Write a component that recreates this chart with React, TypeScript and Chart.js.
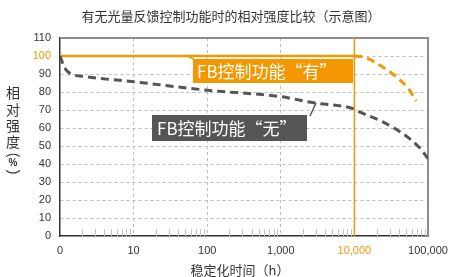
import React, { useEffect, useRef } from 'react';
import { Chart, registerables } from 'chart.js';

Chart.register(...registerables);

const TITLE = '有无光量反馈控制功能时的相对强度比较（示意图）';
const X_TITLE = '稳定化时间（h）';
const Y_TITLE_CHARS = ['相', '对', '强', '度', '(', '%', ')'];
const LABEL_ON = 'FB控制功能“有”';
const LABEL_OFF = 'FB控制功能“无”';

const X_MIN = 1;
const X_MAX = 100000;
const Y_MIN = 0;
const Y_MAX = 110;
const Y_STEP = 10;
const X_MAJOR = [1, 10, 100, 1000, 10000, 100000];
const X_MAJOR_LABELS = ['0', '10', '100', '1,000', '10,000', '100,000'];
const X_MINOR_MULT = [2, 3, 4, 5, 6, 7, 8, 9];
const HIGHLIGHT_X = 10000;
const HIGHLIGHT_Y = 100;

// "FB control ON" series
const ON_SOLID_X = [1, 10000];
const ON_SOLID_Y = [100, 100];
const ON_DASH_X = [10000, 14000, 21900, 37000, 56000, 69000];
const ON_DASH_Y = [100, 99.2, 95, 88.5, 81, 75];

// "FB control OFF" series
const OFF_X = [1, 1.16, 1.35, 2.3, 10, 100, 1000, 2800, 10000, 11700, 24000, 45000, 77000, 100000];
const OFF_Y = [100, 93.3, 90.5, 88.5, 85.7, 81, 77.4, 74, 70.5, 69, 63.5, 57, 49, 43];

const ORANGE = '#F39800';
const DARK = '#555555';
const TEXT = '#333333';
const GRID = '#bdbdbd';
const FONT = "'Liberation Sans', 'Noto Sans CJK SC', sans-serif";
const CJK = "'Noto Sans CJK SC', sans-serif";

const pts = (xs: number[], ys: number[]) => xs.map((x, i) => ({ x, y: ys[i] }));

const xTickValues: number[] = [];
for (let d = 0; d < X_MAJOR.length; d++) {
  xTickValues.push(X_MAJOR[d]);
  if (d < X_MAJOR.length - 1) X_MINOR_MULT.forEach((m) => xTickValues.push(m * X_MAJOR[d]));
}

const decorPlugin = {
  id: 'decor',
  beforeDatasetsDraw(chart: any) {
    const { ctx, chartArea: a, scales } = chart;
    const xs = scales.x;
    ctx.save();
    // minor ticks inside the plot at bottom
    ctx.strokeStyle = '#c4c4c4';
    ctx.lineWidth = 1;
    xs.ticks.forEach((t: any) => {
      if (X_MAJOR.indexOf(t.value) >= 0) return;
      const px = Math.round(xs.getPixelForValue(t.value)) + 0.5;
      ctx.beginPath();
      ctx.moveTo(px, a.bottom);
      ctx.lineTo(px, a.bottom - 7);
      ctx.stroke();
    });
    // top and right frame
    ctx.strokeStyle = '#8c8c8c';
    ctx.lineWidth = 2;
    ctx.beginPath();
    ctx.moveTo(a.left, a.top);
    ctx.lineTo(a.right, a.top);
    ctx.lineTo(a.right, a.bottom);
    ctx.stroke();
    ctx.restore();
  },
  afterDraw(chart: any) {
    const { ctx } = chart;
    ctx.save();
    ctx.fillStyle = TEXT;
    ctx.textAlign = 'center';
    ctx.textBaseline = 'middle';
    ctx.font = `13px ${CJK}`;
    ctx.fillText(TITLE, 231, 16);
    ctx.fillText(X_TITLE, 240, 270);
    const ys = [93, 110, 126, 142, 155, 163, 172];
    Y_TITLE_CHARS.forEach((c, i) => {
      if (c === '(' || c === ')') {
        ctx.save();
        ctx.translate(13, ys[i]);
        ctx.rotate(Math.PI / 2);
        ctx.font = `14px ${FONT}`;
        ctx.fillText(c, 0, 0);
        ctx.restore();
      } else {
        ctx.font = c === '%' ? `bold 10px ${FONT}` : `14px ${CJK}`;
        ctx.fillText(c, 13, ys[i]);
      }
    });

    // ON label
    ctx.strokeStyle = ORANGE;
    ctx.lineWidth = 1.5;
    ctx.beginPath();
    ctx.moveTo(188, chart.scales.y.getPixelForValue(HIGHLIGHT_Y));
    ctx.lineTo(195, 60);
    ctx.stroke();
    ctx.fillStyle = ORANGE;
    ctx.fillRect(193, 59, 160, 24);
    ctx.fillStyle = '#ffffff';
    ctx.font = `17px ${CJK}`;
    ctx.textAlign = 'left';
    ctx.fillText(LABEL_ON, 197, 72);

    // OFF label
    ctx.strokeStyle = DARK;
    ctx.lineWidth = 1.5;
    ctx.beginPath();
    ctx.moveTo(310, 116);
    ctx.lineTo(316, 103);
    ctx.stroke();
    ctx.fillStyle = DARK;
    ctx.fillRect(152, 115, 155, 26);
    ctx.fillStyle = '#ffffff';
    ctx.fillText(LABEL_OFF, 157, 129);
    ctx.restore();
  },
};

export default function App() {
  const ref = useRef<HTMLCanvasElement>(null);
  useEffect(() => {
    document.body.style.margin = '0';
    const chart = new Chart(ref.current as HTMLCanvasElement, {
      type: 'line',
      data: {
        datasets: [
          {
            data: pts([HIGHLIGHT_X, HIGHLIGHT_X], [Y_MIN, Y_MAX]),
            borderColor: ORANGE,
            borderWidth: 1.5,
            pointRadius: 0,
          },
          {
            data: pts(OFF_X, OFF_Y),
            borderColor: DARK,
            borderWidth: 3,
            borderDash: [8, 5],
            pointRadius: 0,
            cubicInterpolationMode: 'monotone',
          },
          {
            data: pts(ON_SOLID_X, ON_SOLID_Y),
            borderColor: ORANGE,
            borderWidth: 2.5,
            pointRadius: 0,
          },
          {
            data: pts(ON_DASH_X, ON_DASH_Y),
            borderColor: ORANGE,
            borderWidth: 3,
            borderDash: [8, 5],
            pointRadius: 0,
            cubicInterpolationMode: 'monotone',
          },
        ],
      },
      options: {
        animation: false,
        responsive: true,
        maintainAspectRatio: false,
        layout: { padding: { top: 38, right: 21, left: 0, bottom: 0 } },
        plugins: { legend: { display: false }, tooltip: { enabled: false }, title: { display: false } },
        scales: {
          x: {
            type: 'logarithmic',
            min: X_MIN,
            max: X_MAX,
            afterBuildTicks: (s: any) => {
              s.ticks = xTickValues.map((v) => ({ value: v, major: X_MAJOR.indexOf(v) >= 0 }));
            },
            afterFit: (s: any) => {
              s.height = 41;
              s.paddingLeft = 0;
              s.paddingRight = 0;
            },
            grid: {
              drawTicks: false,
              color: (c: any) => {
                const v = c.tick && c.tick.value;
                return v === 10 || v === 100 || v === 1000 ? GRID : 'transparent';
              },
            },
            border: { display: true, color: '#333', width: 1.5, dash: [3, 3] },
            ticks: {
              autoSkip: false,
              maxRotation: 0,
              padding: 8,
              font: { size: 11, family: FONT },
              color: (c: any) => (c.tick && c.tick.value === HIGHLIGHT_X ? ORANGE : TEXT),
              callback: (v: any) => {
                const i = X_MAJOR.indexOf(Number(v));
                return i >= 0 ? X_MAJOR_LABELS[i] : '';
              },
            },
          },
          y: {
            min: Y_MIN,
            max: Y_MAX,
            afterFit: (s: any) => {
              s.width = 60;
              s.paddingTop = 0;
              s.paddingBottom = 0;
            },
            grid: {
              drawTicks: false,
              color: (c: any) => {
                const v = c.tick && c.tick.value;
                return v === Y_MIN || v === Y_MAX ? 'transparent' : GRID;
              },
            },
            border: { display: true, color: '#333', width: 1.5, dash: [3, 3] },
            ticks: {
              stepSize: Y_STEP,
              padding: 9,
              font: { size: 11, family: FONT },
              color: (c: any) => (c.tick && c.tick.value === HIGHLIGHT_Y ? ORANGE : TEXT),
            },
          },
        },
      },
      plugins: [decorPlugin],
    } as any);
    return () => chart.destroy();
  }, []);
  return (
    <div style={{ position: 'absolute', left: 0, top: 0, width: 449, height: 277 }}>
      <canvas ref={ref} />
    </div>
  );
}
